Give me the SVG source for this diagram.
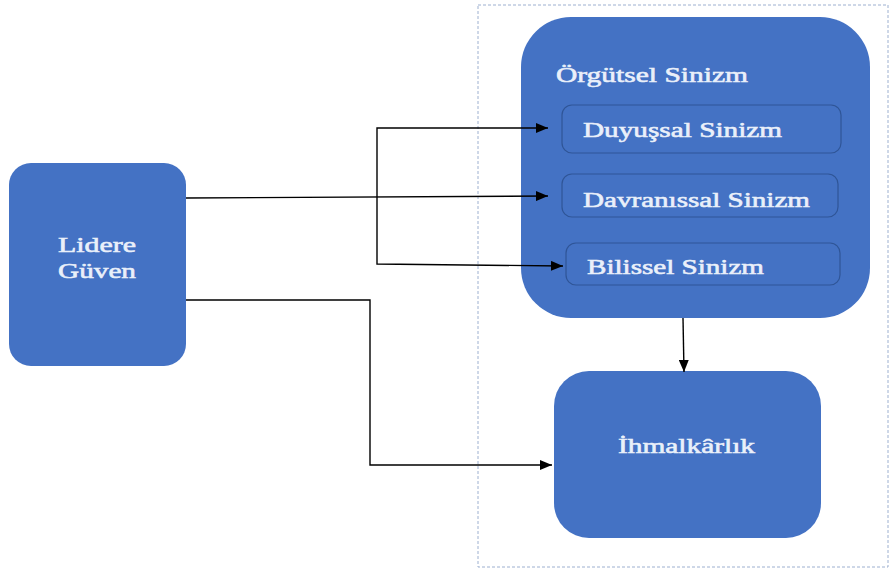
<svg xmlns="http://www.w3.org/2000/svg" width="896" height="569" viewBox="0 0 896 569">
  <defs>
    <marker id="arrow" viewBox="0 0 12 10" refX="12" refY="5" markerWidth="12" markerHeight="10" markerUnits="userSpaceOnUse" orient="auto">
      <path d="M0,0 L12,5 L0,10 Z" fill="#000"/>
    </marker>
  </defs>
  <style>
    .box { fill: #4472C4; }
    .inner { fill: #4472C4; stroke: #2F5597; stroke-width: 1.2; }
    .label { font-family: "Liberation Serif", "Times New Roman", serif; font-size: 22px; fill: #EAF0FA; stroke: #EAF0FA; stroke-width: 0.6; }
    .wire { fill: none; stroke: #000; stroke-width: 1.4; }
    .frame { fill: none; stroke: #9DB0D0; stroke-width: 1; stroke-dasharray: 3 2; }
  </style>
  <rect width="896" height="569" fill="#fff"/>

  <!-- dashed frame around the outcome variables -->
  <rect class="frame" x="478" y="5" width="410" height="562"/>

  <g id="lidere-guven">
    <rect class="box" x="9" y="163" width="177" height="203" rx="22"/>
    <text class="label" x="58" y="252" textLength="78" lengthAdjust="spacingAndGlyphs">Lidere</text>
    <text class="label" x="58" y="278" textLength="78" lengthAdjust="spacingAndGlyphs">Güven</text>
  </g>

  <g id="orgutsel-sinizm">
    <rect class="box" x="521" y="17" width="349" height="301" rx="50"/>
    <text class="label" x="556" y="82" textLength="192" lengthAdjust="spacingAndGlyphs">Örgütsel Sinizm</text>
  </g>

  <g id="duyussal-sinizm">
    <rect class="inner" x="562" y="105" width="279" height="48" rx="10"/>
    <text class="label" x="583" y="137" textLength="199" lengthAdjust="spacingAndGlyphs">Duyuşsal Sinizm</text>
  </g>

  <g id="davranissal-sinizm">
    <rect class="inner" x="562" y="174" width="276" height="43" rx="10"/>
    <text class="label" x="583" y="207" textLength="227" lengthAdjust="spacingAndGlyphs">Davranıssal Sinizm</text>
  </g>

  <g id="bilissel-sinizm">
    <rect class="inner" x="566" y="243" width="274" height="42" rx="10"/>
    <text class="label" x="587" y="274" textLength="177" lengthAdjust="spacingAndGlyphs">Bilissel Sinizm</text>
  </g>

  <g id="ihmalkarlik">
    <rect class="box" x="554" y="371" width="267" height="167" rx="35"/>
    <text class="label" x="618" y="453" textLength="137" lengthAdjust="spacingAndGlyphs">İhmalkârlık</text>
  </g>

  <g id="connectors">
    <path class="wire" d="M186,198 L548,196" stroke-width="2.2" marker-end="url(#arrow)"/>
    <path class="wire" d="M377,198 L377,128 L548,128" marker-end="url(#arrow)"/>
    <path class="wire" d="M377,198 L377,264 L563,266" marker-end="url(#arrow)"/>
    <path class="wire" d="M186,300 L370,300 L370,465 L552,465" marker-end="url(#arrow)"/>
    <path class="wire" d="M683,318 L684,372" marker-end="url(#arrow)"/>
  </g>
</svg>
